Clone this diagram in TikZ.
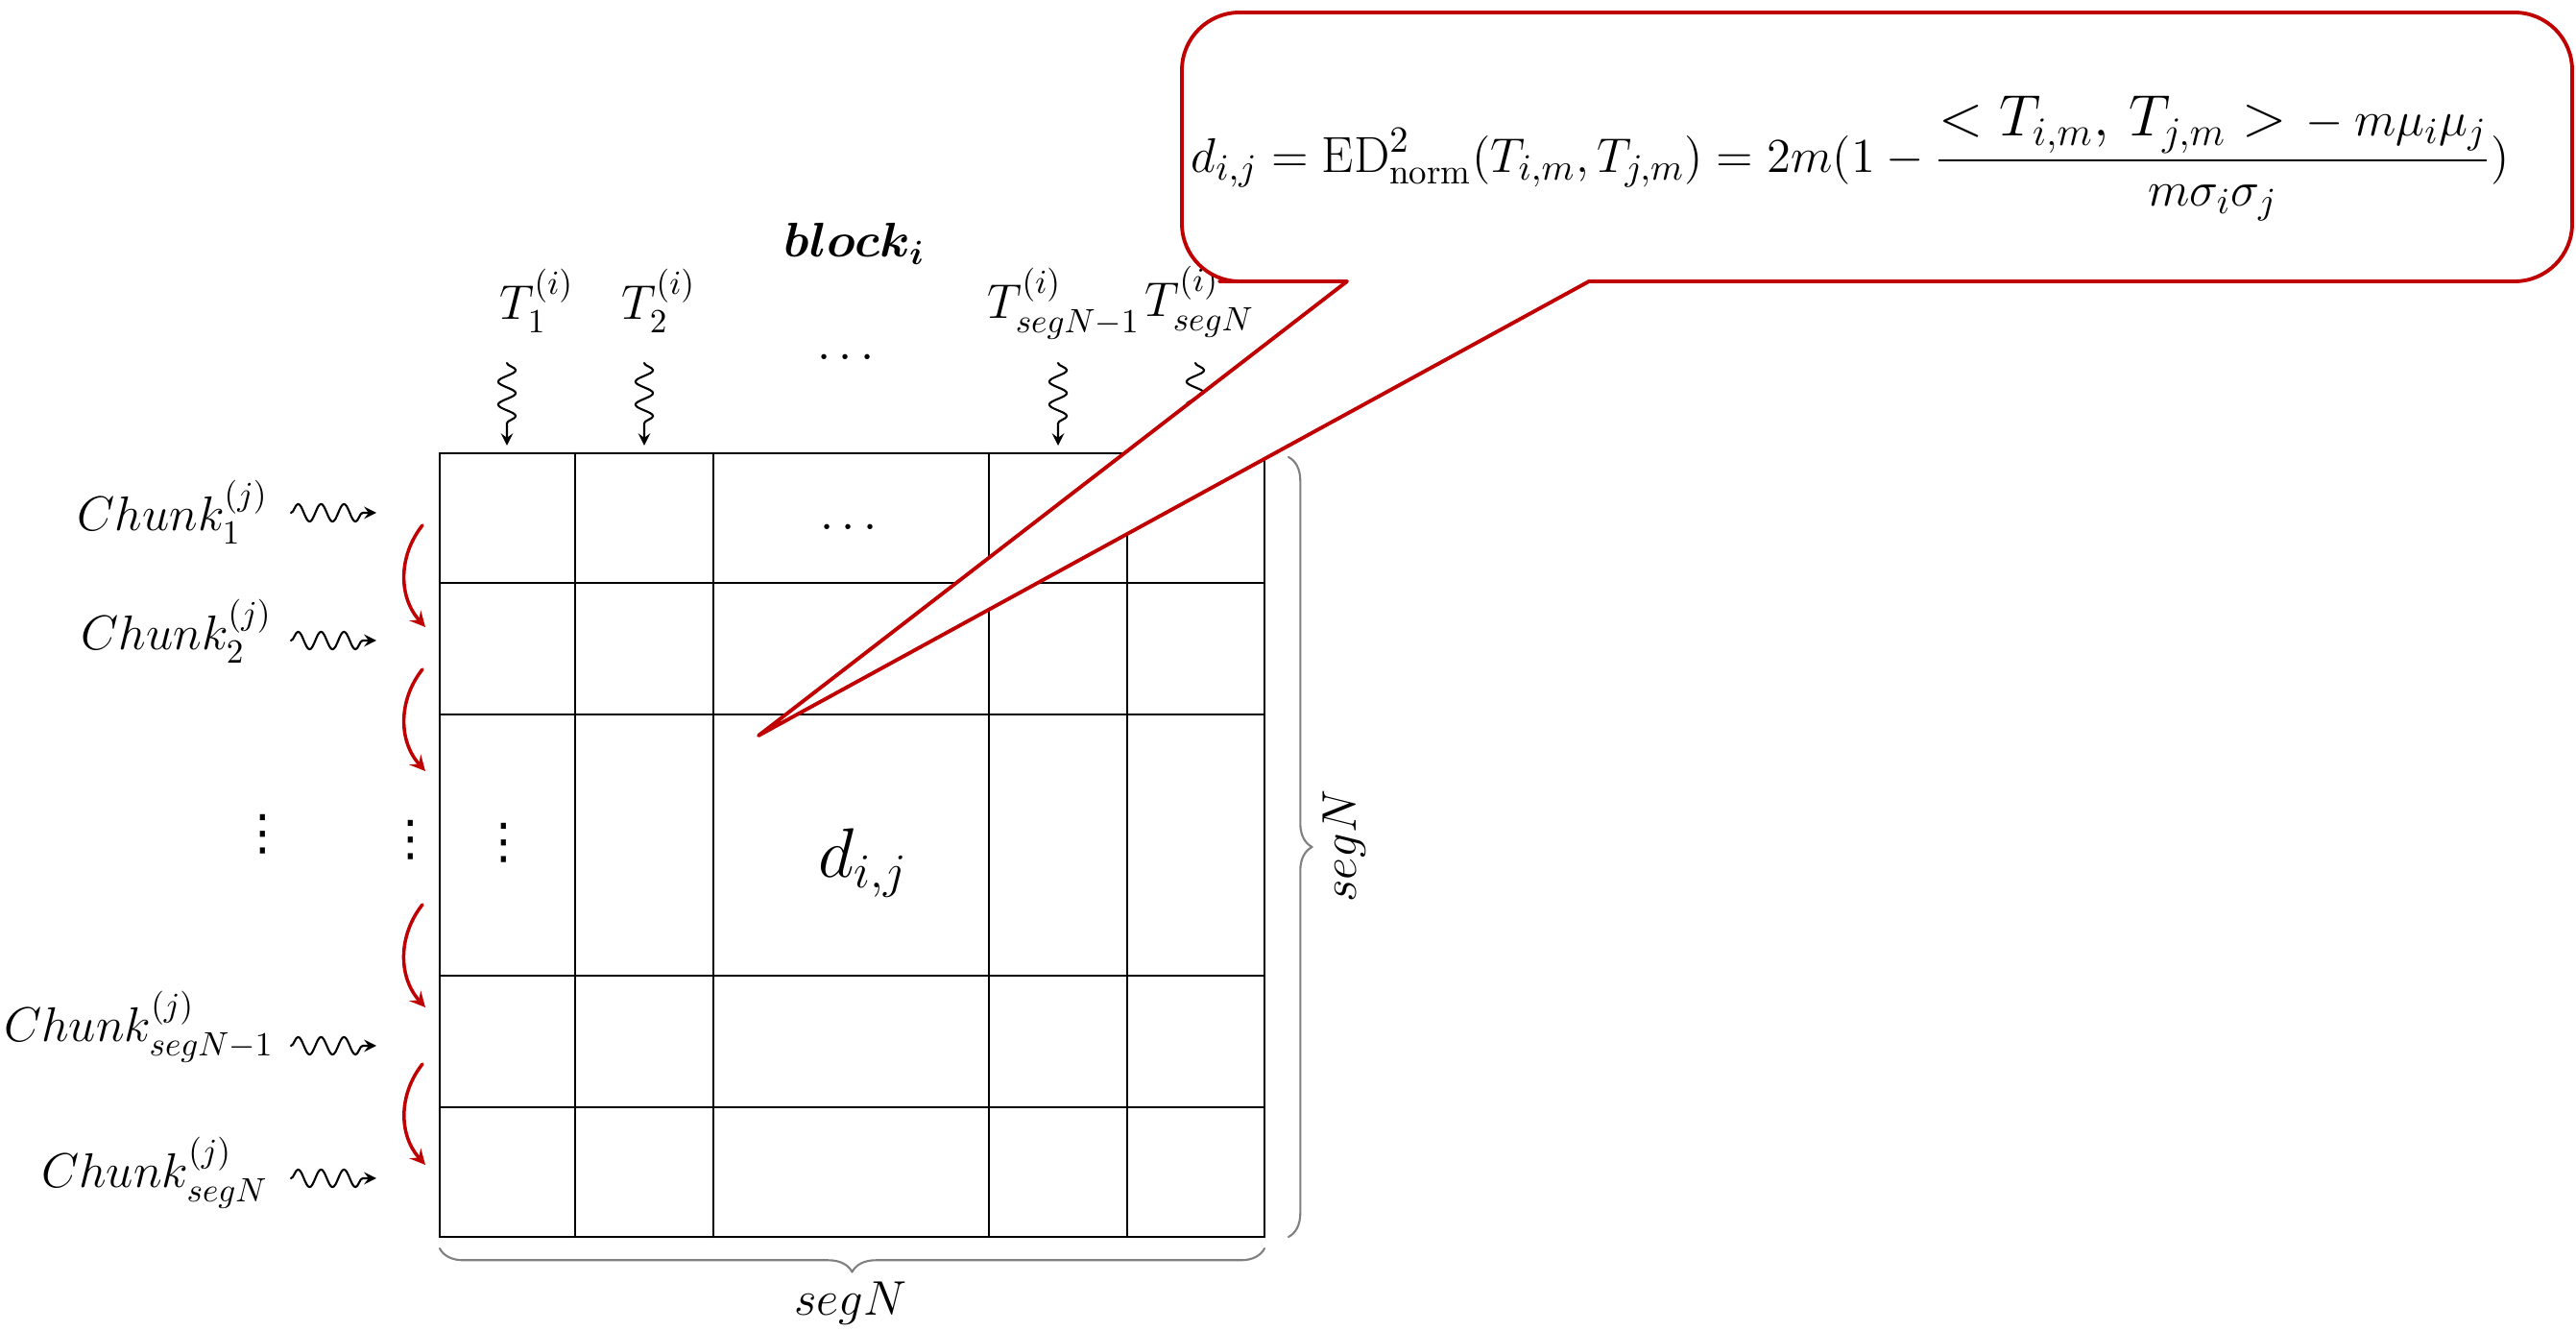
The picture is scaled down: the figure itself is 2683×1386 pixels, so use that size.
\documentclass[tikz,border=0pt]{standalone}
\usepackage{amsmath,amssymb}
\usepackage{fontspec}
\newfontfamily\dotfont{DejaVu Sans}
\usetikzlibrary{decorations.pathmorphing,decorations.pathreplacing}
\definecolor{callred}{HTML}{C00000}

\begin{document}
\begin{tikzpicture}[>=stealth, line join=round, line cap=round, x=0.01cm, y=-0.01cm,
    lbl/.style={font=\Large, inner sep=0pt},
    vdot/.style={font=\Large\dotfont, inner sep=0pt},
    wave/.style={->, line width=0.6pt, decorate,
      decoration={snake, amplitude=2.6pt, segment length=6.8pt, post length=4pt}},
    hop/.style={->, callred, line width=1pt, bend right=40},
    brc/.style={decorate, decoration={brace, amplitude=7pt}, gray, line width=0.6pt}]
    \useasboundingbox (0,0) rectangle (2683,1386);
    \def\xl{458} \def\xr{1317} \def\yt{472} \def\yb{1288}
    \foreach \x in {458,599,743,1030,1174,1317} \draw[line width=0.7pt] (\x,\yt)--(\x,\yb);
    \foreach \y in {472,607,744,1016,1153,1288} \draw[line width=0.7pt] (\xl,\y)--(\xr,\y);
    \node[lbl, anchor=base west] (blk) at (816,268) {$\boldsymbol{block_i}$};
    \node[lbl, anchor=base west] (t1) at (520,333) {$T_1^{(i)}$};
    \node[lbl, anchor=base west] (t2) at (647,333) {$T_2^{(i)}$};
    \node[lbl] (tdots) at (885,373) {$\cdots$};
    \node[lbl, anchor=base west] (t4) at (1028,332) {$T_{segN-1}^{(i)}$};
    \node[lbl, anchor=base west] (t5) at (1192,330) {$T_{segN}^{(i)}$};
    \foreach \n/\x in {1/528,2/671,4/1102,5/1245} {
        \coordinate (a\n) at (\x,378);
        \coordinate (b\n) at (\x,464);
        \draw[wave] (a\n)--(b\n);
    }
    \node[lbl, anchor=base east] (c1) at (280,553) {$Chunk_1^{(j)}$};
    \node[lbl, anchor=base east] (c2) at (284,677) {$Chunk_2^{(j)}$};
    \node[lbl, anchor=base east] (c4) at (286,1085) {$Chunk_{segN-1}^{(j)}$};
    \node[lbl, anchor=base east] (c5) at (280,1237) {$Chunk_{segN}^{(j)}$};
    \foreach \n/\y in {1/534,2/667,4/1089,5/1227} {
        \coordinate (l\n) at (303,\y);
        \coordinate (r\n) at (392,\y);
        \draw[wave] (l\n)--(r\n);
    }
    \foreach \n/\p/\q in {1/547/653,2/697/803,3/942/1049,4/1108/1213} {
        \coordinate (u\n) at (440,\p);
        \coordinate (v\n) at (443,\q);
        \draw[hop] (u\n) to (v\n);
    }
    \node[vdot] (vd1) at (274,869) {⋮};
    \node[vdot] (vd2) at (428,875) {⋮};
    \node[vdot] (vd3) at (525,878) {⋮};
    \node[lbl] (hd) at (888,550) {$\cdots$};
    \node[font=\huge, inner sep=0pt, anchor=base west] (dij) at (852,914) {$d_{i,j}$};
    \draw[brc] (1342,476)--(1342,\yb);
    \draw[brc] (\xr,1300)--(\xl,1300);
    \node[lbl, rotate=90] (sr) at (1400,881) {$segN$};
    \node[lbl, anchor=base] (sb) at (886,1370) {$segN$};
    \coordinate (tip) at (790,766);
    \filldraw[callred, fill=white, line width=1.1pt] (1403,293)--(tip)--(1655,293)--(1800,293)
        [rounded corners=0.6cm]--(2679,293)--(2679,13)--(1231,13)--(1231,293)--(1330,293)
        [sharp corners]--cycle;
    \node[font=\fontsize{15}{18}\selectfont, inner sep=0pt, anchor=west] (eq) at (1240,165)
        {$d_{i,j}=\mathrm{ED}^2_{\mathrm{norm}}(T_{i,m},T_{j,m})=2m(1-\dfrac{\mbox{\LARGE$<T_{i,m},\,T_{j,m}>$}\,-m\mu_i\mu_j}{m\sigma_i\sigma_j})$};
\end{tikzpicture}
\end{document}
